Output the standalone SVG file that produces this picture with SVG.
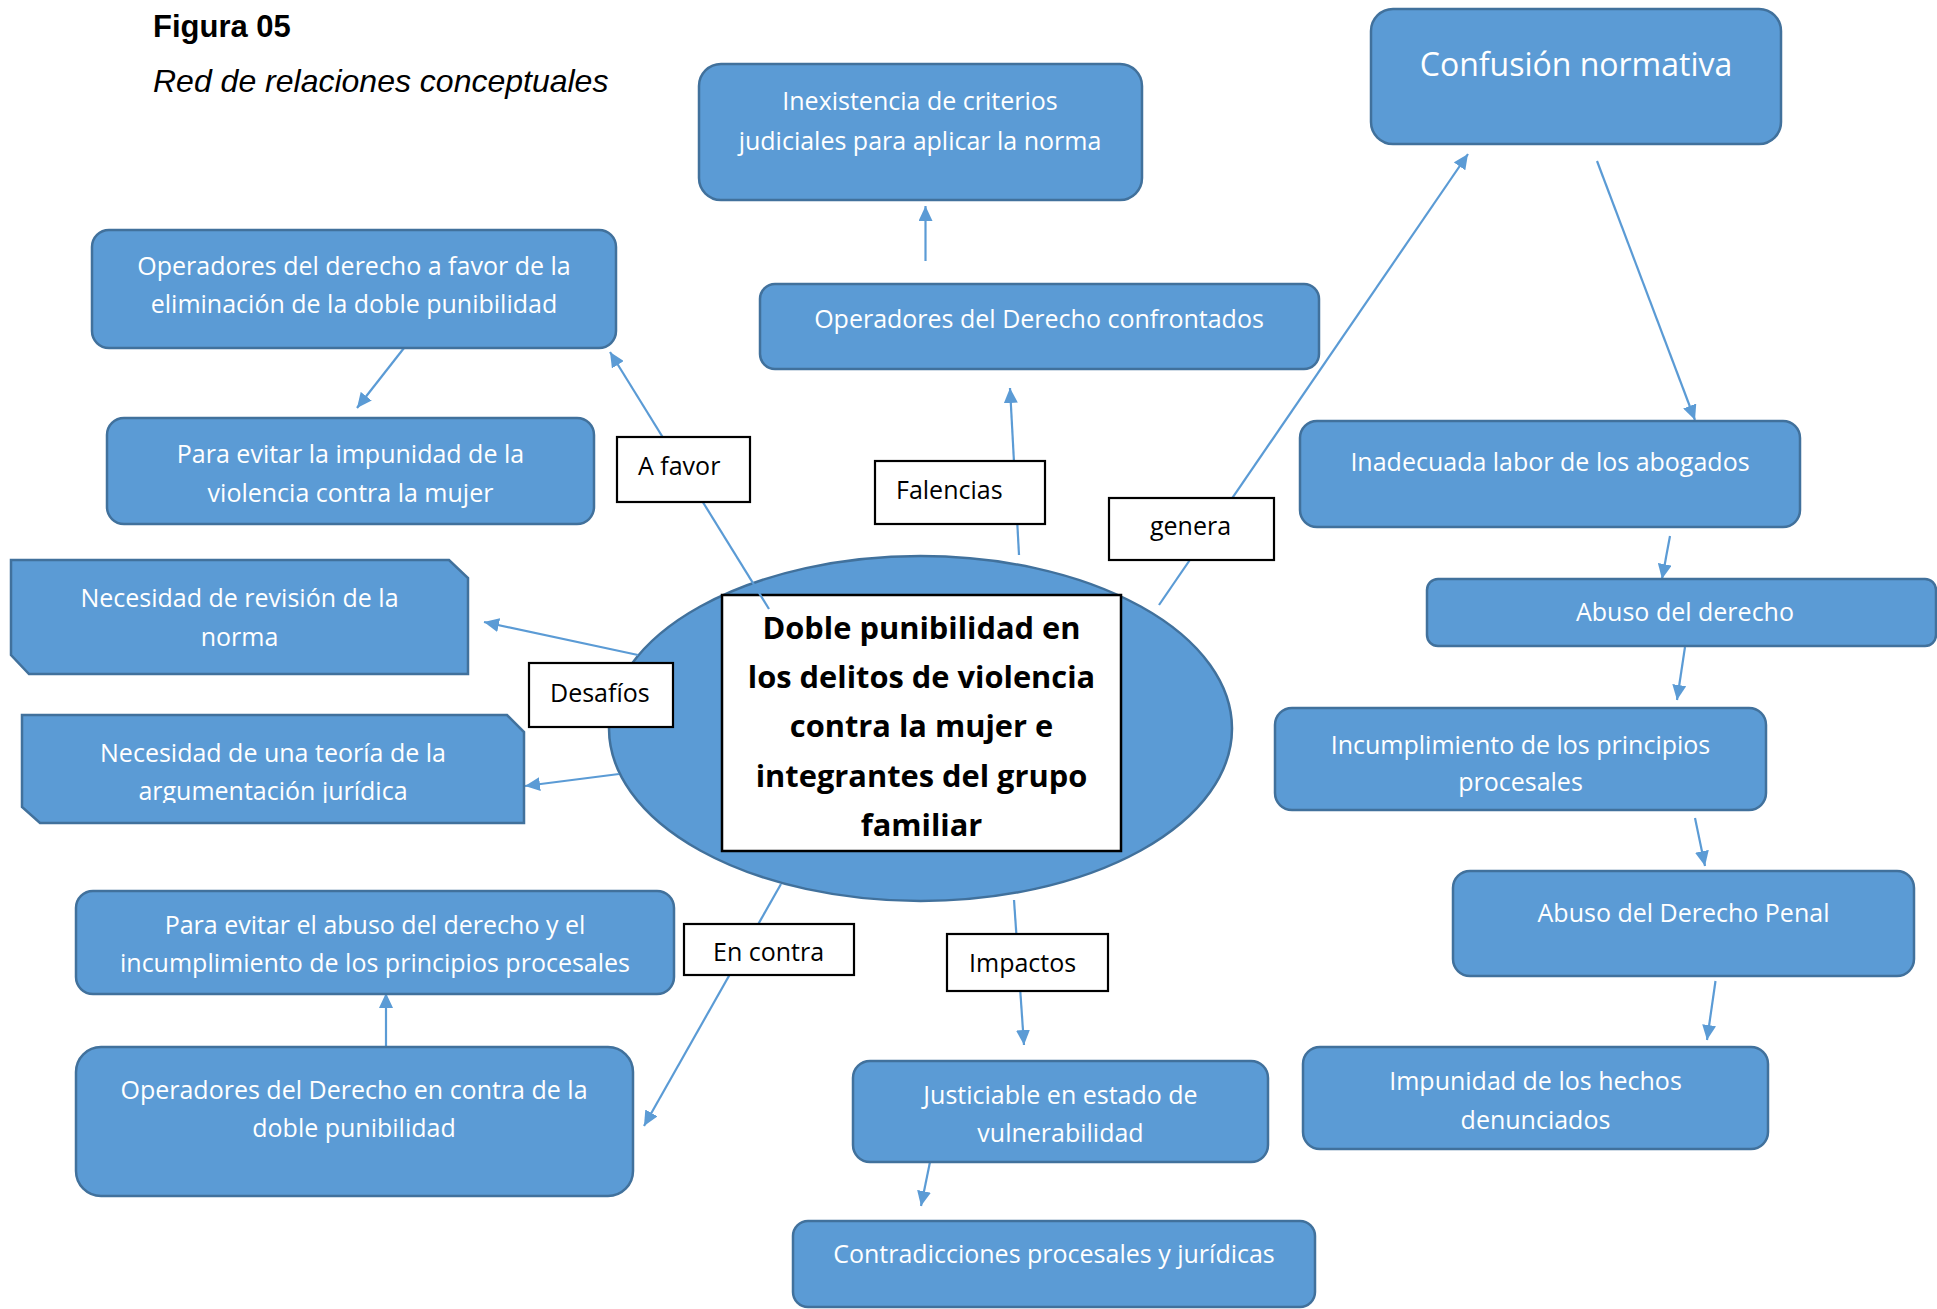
<svg xmlns="http://www.w3.org/2000/svg" width="1937" height="1309" viewBox="0 0 1937 1309">
<style>
.box{fill:#5B9BD5;stroke:#41719C;stroke-width:2.5}
.bt{font-family:"Open Sans","Liberation Sans",sans-serif;font-size:25px;fill:#FFFFFF;text-anchor:middle}
.lab{fill:#FFFFFF;stroke:#000000;stroke-width:2.2}
.lt{font-family:"Open Sans","Liberation Sans",sans-serif;font-size:25px;fill:#000000}
.con{stroke:#5B9BD5;stroke-width:2.2;fill:none;marker-end:url(#ah)}
.ct{font-family:"Open Sans","Liberation Sans",sans-serif;font-size:30.8px;font-weight:bold;fill:#000000;text-anchor:middle}
</style>
<defs>
<marker id="ah" markerUnits="userSpaceOnUse" markerWidth="16" markerHeight="14" refX="15" refY="7" orient="auto">
<path d="M0,0 L15,7 L0,14 z" fill="#5B9BD5"/>
</marker>
<clipPath id="clipD"><rect x="0" y="700" width="600" height="103"/></clipPath>
</defs>
<rect width="1937" height="1309" fill="#FFFFFF"/>
<g id="title">
<text x="153" y="37" font-family="Liberation Sans, Arial, sans-serif" font-size="31" font-weight="bold" fill="#000">Figura 05</text>
<text x="153" y="92" font-family="Liberation Sans, Arial, sans-serif" font-size="32" font-style="italic" fill="#000">Red de relaciones conceptuales</text>
</g>
<g id="central">
<ellipse cx="920.5" cy="728.5" rx="311.5" ry="172.5" class="box"/>
<rect x="722" y="595" width="399" height="256" fill="#FFFFFF" stroke="#000" stroke-width="2.5"/>
<text class="ct" x="921.5" y="639">Doble punibilidad en</text>
<text class="ct" x="921.5" y="688">los delitos de violencia</text>
<text class="ct" x="921.5" y="737">contra la mujer e</text>
<text class="ct" x="921.5" y="787">integrantes del grupo</text>
<text class="ct" x="921.5" y="836">familiar</text>
</g>
<g id="connectors">
<line class="con" x1="769" y1="609" x2="610" y2="352"/>
<line class="con" x1="404" y1="348" x2="357" y2="408"/>
<line class="con" x1="1019" y1="555" x2="1010" y2="388"/>
<line class="con" x1="925.5" y1="261" x2="925.5" y2="206"/>
<line class="con" x1="1159" y1="605" x2="1468" y2="154"/>
<line class="con" x1="1597" y1="161" x2="1695" y2="420"/>
<line class="con" x1="1670" y1="536" x2="1662" y2="579"/>
<line class="con" x1="1685" y1="647" x2="1677" y2="700"/>
<line class="con" x1="1695" y1="818" x2="1705" y2="866"/>
<line class="con" x1="1715.5" y1="981" x2="1707" y2="1040"/>
<line class="con" x1="638" y1="655" x2="484" y2="622"/>
<line class="con" x1="619" y1="774" x2="525" y2="786"/>
<line class="con" x1="781" y1="884" x2="644" y2="1126"/>
<line class="con" x1="386" y1="1047" x2="386" y2="993"/>
<line class="con" x1="1014" y1="900" x2="1024" y2="1045"/>
<line class="con" x1="930" y1="1162" x2="921" y2="1206"/>
</g>
<g id="label-afavor"><rect class="lab" x="617" y="437" width="133" height="65"/><text class="lt" x="638" y="475">A favor</text></g>
<g id="label-falencias"><rect class="lab" x="875" y="461" width="170" height="63"/><text class="lt" x="896" y="499">Falencias</text></g>
<g id="label-genera"><rect class="lab" x="1109" y="498" width="165" height="62"/><text class="lt" x="1150" y="535">genera</text></g>
<g id="label-desafios"><rect class="lab" x="529" y="663" width="144" height="64"/><text class="lt" x="550" y="702">Desafíos</text></g>
<g id="label-encontra"><rect class="lab" x="684" y="924" width="170" height="51"/><text class="lt" x="713" y="961">En contra</text></g>
<g id="label-impactos"><rect class="lab" x="947" y="934" width="161" height="57"/><text class="lt" x="969" y="972">Impactos</text></g>
<g id="n-afavor"><rect class="box" x="92" y="230" width="524" height="118" rx="17"/><text class="bt" x="354" y="275">Operadores del derecho a favor de la</text><text class="bt" x="354" y="313">eliminación de la doble punibilidad</text></g>
<g id="n-impunidad-violencia"><rect class="box" x="107" y="418" width="487" height="106" rx="17"/><text class="bt" x="350.5" y="463">Para evitar la impunidad de la</text><text class="bt" x="350.5" y="502">violencia contra la mujer</text></g>
<g id="n-revision"><polygon class="box" points="11,560 449,560 468,578 468,674 29,674 11,655"/><text class="bt" x="239.5" y="607">Necesidad de revisión de la</text><text class="bt" x="239.5" y="646">norma</text></g>
<g id="n-teoria"><polygon class="box" points="22,715 507,715 524,732 524,823 40,823 22,807"/><text class="bt" x="273" y="762">Necesidad de una teoría de la</text><text class="bt" x="273" y="800" clip-path="url(#clipD)">argumentación jurídica</text></g>
<g id="n-evitar-abuso"><rect class="box" x="76" y="891" width="598" height="103" rx="17"/><text class="bt" x="375" y="934">Para evitar el abuso del derecho y el</text><text class="bt" x="375" y="972">incumplimiento de los principios procesales</text></g>
<g id="n-encontra"><rect class="box" x="76" y="1047" width="557" height="149" rx="25"/><text class="bt" x="354" y="1099">Operadores del Derecho en contra de la</text><text class="bt" x="354" y="1137">doble punibilidad</text></g>
<g id="n-inexistencia"><rect class="box" x="699" y="64" width="443" height="136" rx="22"/><text class="bt" x="920" y="110">Inexistencia de criterios</text><text class="bt" x="920" y="150">judiciales para aplicar la norma</text></g>
<g id="n-confrontados"><rect class="box" x="760" y="284" width="559" height="85" rx="15"/><text class="bt" x="1039" y="328">Operadores del Derecho confrontados</text></g>
<g id="n-confusion"><rect class="box" x="1371" y="9" width="410" height="135" rx="22"/><text class="bt" x="1576" y="76" style="font-size:32px">Confusión normativa</text></g>
<g id="n-inadecuada"><rect class="box" x="1300" y="421" width="500" height="106" rx="17"/><text class="bt" x="1550" y="471">Inadecuada labor de los abogados</text></g>
<g id="n-abuso"><rect class="box" x="1427" y="579" width="509" height="67" rx="11"/><text class="bt" x="1685" y="621">Abuso del derecho</text></g>
<g id="n-incumplimiento"><rect class="box" x="1275" y="708" width="491" height="102" rx="17"/><text class="bt" x="1520.5" y="753.5">Incumplimiento de los principios</text><text class="bt" x="1520.5" y="791">procesales</text></g>
<g id="n-penal"><rect class="box" x="1453" y="871" width="461" height="105" rx="17"/><text class="bt" x="1683.5" y="921.5">Abuso del Derecho Penal</text></g>
<g id="n-impunidad"><rect class="box" x="1303" y="1047" width="465" height="102" rx="17"/><text class="bt" x="1535.5" y="1090">Impunidad de los hechos</text><text class="bt" x="1535.5" y="1129">denunciados</text></g>
<g id="n-justiciable"><rect class="box" x="853" y="1061" width="415" height="101" rx="17"/><text class="bt" x="1060.5" y="1104">Justiciable en estado de</text><text class="bt" x="1060.5" y="1142">vulnerabilidad</text></g>
<g id="n-contradicciones"><rect class="box" x="793" y="1221" width="522" height="86" rx="15"/><text class="bt" x="1054" y="1263">Contradicciones procesales y jurídicas</text></g>
</svg>
